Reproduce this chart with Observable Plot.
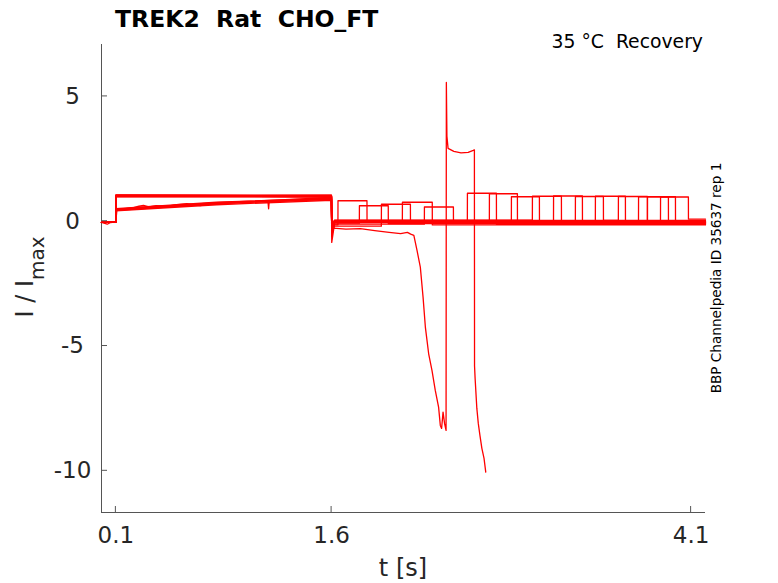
<!DOCTYPE html>
<html><head><meta charset="utf-8">
<script src="https://cdn.jsdelivr.net/npm/d3@7"></script>
<script src="https://cdn.jsdelivr.net/npm/@observablehq/plot@0.6"></script>
<style>body{margin:0;background:#fff}</style>
</head><body><div id="chart"></div>
<script>
// axes
const xTicks = [0.1, 1.6, 4.1];
const yTicks = [5, 0, -5, -10];
const xDomain = [0, 4.2];
const yDomain = [-11.67, 7.08];

// regular sweeps: conditioning pulse 0.1–1.6 s, then test pulse riseT–fallT
const riseT  = [1.644, 1.793, 1.946, 2.092, 2.245, 2.544, 2.697, 2.850, 2.996, 3.143, 3.295, 3.434, 3.594, 3.734, 3.887, 3.796];
const fallT  = [1.846, 1.994, 2.148, 2.300, 2.447, 2.746, 2.892, 3.045, 3.198, 3.344, 3.490, 3.643, 3.796, 3.942, 4.081, 3.991];
const pulseLevel = [0.82, 0.62, 0.68, 0.76, 0.57, 1.12, 1.10, 0.98, 1.00, 1.01, 0.99, 1.00, 0.99, 0.98, 0.97, 0.98];
const firstStart = [0.45, 0.42, 0.48, 0.44, 0.50, 1.03, 1.00, 1.05, 0.98, 1.02, 1.04, 0.99, 1.01, 1.03, 1.00, 1.02];
const firstMid   = [0.72, 0.66, 0.74, 0.70, 0.76, 1.02, 1.00, 1.04, 0.98, 1.02, 1.03, 0.99, 1.00, 1.03, 1.00, 1.02];
const firstEnd   = [0.90, 0.84, 0.95, 0.88, 0.92, 1.01, 0.99, 1.03, 0.97, 1.02, 1.03, 0.98, 1.00, 1.04, 0.99, 1.01];
const spikeLevel = [-0.45, -0.60, -0.35, -0.50, -0.85, -0.30, -0.40, -0.25, -0.35, -0.30, -0.45, -0.28, -0.38, -0.32, -0.40, -0.30];
const restLevel  = [-0.15, -0.08, -0.20, -0.05, -0.12, 0.02, -0.03, 0.00, 0.04, -0.06, 0.01, -0.02, 0.03, -0.04, 0.00, 0.02];
const tailLevel  = [-0.05, -0.10, 0.00, -0.15, -0.08, -0.13, -0.12, -0.05, 0.00, -0.02, 0.03, -0.06, -0.10, -0.03, 0.08, -0.05];
const holdLevel = -0.05;

// the leaky sweep
const leakT = [0,0.04,0.06,0.099,0.107,0.13,0.17,0.223,0.26,0.292,0.33,0.38,0.455,0.52,0.594,0.64,0.687,0.75,0.803,0.86,0.918,0.97,1.034,1.1,1.158,1.162,1.166,1.22,1.266,1.33,1.382,1.44,1.498,1.55,1.599,1.601,1.61,1.7,1.8,1.9,2.0,2.08,2.127,2.15,2.172,2.194,2.217,2.236,2.252,2.275,2.298,2.321,2.344,2.356,2.365,2.375,2.386,2.396,2.398,2.402,2.41,2.45,2.5,2.55,2.585,2.593,2.594,2.598,2.61,2.62,2.632,2.645,2.66,2.672];
const leakI = [-0.05,-0.12,-0.06,-0.04,0.43,0.46,0.5,0.54,0.6,0.63,0.57,0.62,0.59,0.66,0.70,0.66,0.63,0.69,0.70,0.73,0.74,0.78,0.77,0.80,0.76,0.50,0.78,0.80,0.81,0.84,0.83,0.86,0.86,0.85,0.86,-0.6,-0.28,-0.32,-0.30,-0.38,-0.45,-0.5,-0.45,-0.52,-0.57,-1.17,-1.84,-3.04,-4.24,-5.31,-5.98,-6.78,-7.45,-8.18,-8.3,-7.65,-8.12,-8.38,5.56,3.4,2.92,2.8,2.74,2.76,2.84,2.86,-5.8,-6.3,-7.5,-8.1,-8.6,-9.1,-9.5,-10.05];

// build table
const rows = [];
riseT.forEach((r, k) => {
  const pts = [
    [0, holdLevel], [0.099, holdLevel],
    [0.1, firstStart[k]], [0.8, firstMid[k]], [1.599, firstEnd[k]],
    [1.601, spikeLevel[k]], [1.62, restLevel[k]],
    [r, restLevel[k]], [r + 0.0005, pulseLevel[k]],
    [fallT[k], pulseLevel[k]], [fallT[k] + 0.0005, tailLevel[k]],
    [xDomain[1], tailLevel[k]]
  ];
  pts.forEach(([t, I]) => rows.push({s: "s" + k, t, I}));
});
leakT.forEach((t, i) => rows.push({s: "leak", t, I: leakI[i]}));

const chart = Plot.plot({
  width: 778, height: 583,
  marginLeft: 101, marginRight: 73, marginTop: 44, marginBottom: 71,
  x: {domain: xDomain},
  y: {domain: yDomain},
  style: {fontFamily: "DejaVu Sans", background: "white", color: "#262626"},
  marks: [
    Plot.ruleX([xDomain[0]], {stroke: "#555", strokeWidth: 1}),
    Plot.ruleY([yDomain[0]], {stroke: "#555", strokeWidth: 1}),
    Plot.axisX({ticks: xTicks, tickSize: 0, tickPadding: 14, fontSize: 23, tickFormat: d => String(d), label: null, fill: "#262626"}),
    Plot.axisY({ticks: yTicks, tickSize: 0, tickPadding: 29, textAnchor: "middle", fontSize: 23, tickFormat: d => String(d), label: null, fill: "#262626"}),
    Plot.line(rows, {x: "t", y: "I", z: "s", stroke: "#ff0000", strokeWidth: 1.3, curve: "linear"})
  ]
});
document.getElementById("chart").appendChild(chart);

const svg = d3.select(chart);
const sx = chart.scale("x"), sy = chart.scale("y");
const x0 = sx.apply(xDomain[0]), y0 = sy.apply(yDomain[0]);
xTicks.forEach(t => svg.append("line").attr("x1", sx.apply(t)).attr("x2", sx.apply(t))
  .attr("y1", y0).attr("y2", y0 - 6).attr("stroke", "#555"));
yTicks.forEach(v => svg.append("line").attr("y1", sy.apply(v)).attr("y2", sy.apply(v))
  .attr("x1", x0).attr("x2", x0 + 6).attr("stroke", "#555"));

const F = "DejaVu Sans";
svg.append("text").attr("x", 115).attr("y", 27).attr("font-family", F).attr("font-weight", "bold")
  .attr("text-anchor", "start").attr("font-size", 23.5).attr("fill", "#000").text("TREK2  Rat  CHO_FT");
svg.append("text").attr("x", 703).attr("y", 48).attr("font-family", F).attr("text-anchor", "end")
  .attr("font-size", 18.8).attr("fill", "#000").text("35 °C  Recovery");
svg.append("text").attr("x", 403).attr("y", 576).attr("font-family", F).attr("text-anchor", "middle")
  .attr("font-size", 24).attr("fill", "#262626").text("t [s]");
const yl = svg.append("text").attr("transform", "translate(33,277) rotate(-90)")
  .attr("font-family", F).attr("text-anchor", "middle").attr("font-size", 24).attr("fill", "#262626");
yl.append("tspan").text("I / I");
yl.append("tspan").attr("font-size", 20).attr("dy", 11).text("max");
svg.append("text").attr("transform", "translate(721,278) rotate(-90)")
  .attr("font-family", F).attr("text-anchor", "middle").attr("font-size", 13.6).attr("fill", "#000")
  .text("BBP Channelpedia ID 35637 rep 1");
</script>
</body></html>
